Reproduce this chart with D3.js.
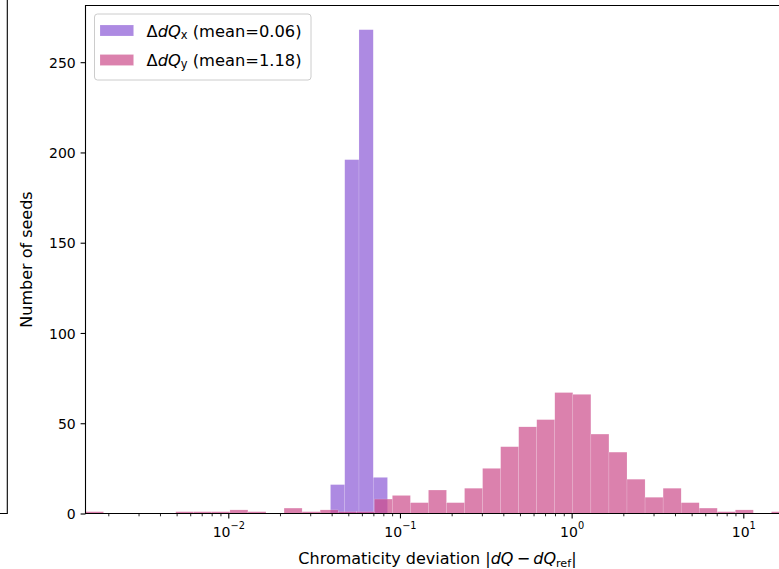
<!DOCTYPE html>
<html><head><meta charset="utf-8">
<script src="https://cdn.jsdelivr.net/npm/d3@7"></script>
<style>body{margin:0;background:#fff}svg{display:block;font-family:"DejaVu Sans",sans-serif}</style>
</head><body><svg id="c" width="779" height="569"></svg>
<script>
// ---- data ----
const pinkLogRange = [-2.8318, 1.2688];   // log10 of first / last bin edge (39 log-spaced bins)
const pinkCounts = [1,0,0,0,0,1,1,1,2,1, 0,3,1,2,1,1,8,10,6,13, 6,14,25,37,48,52,67,66,44,34, 19,9,14,6,3,1,2,0,1];
const purpleEdges = [0.03937, 0.04768, 0.05772, 0.06988, 0.08460];
const purpleCounts = [16,196,268,20];
const xTicks = [0.01, 0.1, 1, 10];
const xTickExps = ["\u22122", "\u22121", "0", "1"];
const yTicks = [0, 50, 100, 150, 200, 250];
const seriesNames = ["x", "y"];
const seriesMeans = ["0.06", "1.18"];
const purpleColor = "#8a58d6", pinkColor = "#cc4c8a", barAlpha = 0.7;

// ---- layout ----
const svg = d3.select("#c");
const L = 85.5, R = 789.45, T = 5.5, B = 513.5;
const nb = pinkCounts.length;
const pinkEdges = d3.range(nb + 1).map(i => Math.pow(10, pinkLogRange[0] + (pinkLogRange[1] - pinkLogRange[0]) * i / nb));
const x = d3.scaleLog().domain([pinkEdges[0], pinkEdges[nb]]).range([L, R]);
const y = d3.scaleLinear().domain([0, d3.max(purpleCounts.concat(pinkCounts)) * 1.05]).range([B, T]);

// partial neighbour frame at far left
svg.append("path").attr("d", `M7.3,0V${B}H0`).attr("fill", "none").attr("stroke", "#000").attr("stroke-width", 1.1);

svg.append("clipPath").attr("id", "clip").append("rect").attr("x", L).attr("y", T).attr("width", R - L).attr("height", B - T);
const plot = svg.append("g").attr("clip-path", "url(#clip)");

function drawHist(edges, counts, color) {
  const bins = counts.map((c, i) => ({x0: edges[i], x1: edges[i + 1], c})).filter(b => b.c > 0);
  plot.append("g").selectAll("rect").data(bins).join("rect")
    .attr("x", b => x(b.x0)).attr("width", b => x(b.x1) - x(b.x0))
    .attr("y", b => y(b.c)).attr("height", b => y(0) - y(b.c))
    .attr("fill", color).attr("fill-opacity", barAlpha)
    .attr("stroke", "#fff").attr("stroke-opacity", 0.45).attr("stroke-width", 0.35);
}
drawHist(purpleEdges, purpleCounts, purpleColor);
drawHist(pinkEdges, pinkCounts, pinkColor);

// ---- axes ----
const minor = [];
for (let e = -3; e <= 1; e++) for (let m = 2; m <= 9; m++) { const v = m * Math.pow(10, e); if (v > pinkEdges[0] && v < pinkEdges[nb]) minor.push(v); }
const gxm = svg.append("g").attr("transform", `translate(0,${B})`)
  .call(d3.axisBottom(x).tickValues(minor).tickSize(2.8).tickFormat(() => ""));
gxm.select(".domain").remove();
gxm.selectAll(".tick line").attr("stroke-width", 0.85);

const gx = svg.append("g").attr("transform", `translate(0,${B})`)
  .call(d3.axisBottom(x).tickValues(xTicks).tickSize(4.9).tickPadding(4.9).tickFormat(() => ""));
gx.select(".domain").remove();
gx.attr("font-family", null).attr("font-size", 14);
gx.selectAll(".tick line").attr("stroke-width", 1.1);
gx.selectAll(".tick text").each(function (d, i) {
  const t = d3.select(this).text(null).attr("y", 23.2).attr("dy", null).attr("fill", "#000");
  t.append("tspan").text("10");
  t.append("tspan").attr("dy", -7.7).attr("font-size", 9.8).text(xTickExps[i]);
});

const gy = svg.append("g").attr("transform", `translate(${L},0)`)
  .call(d3.axisLeft(y).tickValues(yTicks).tickSize(4.9).tickPadding(4.9));
gy.select(".domain").remove();
gy.attr("font-family", null).attr("font-size", 14);
gy.selectAll(".tick line").attr("stroke-width", 1.1);
gy.selectAll(".tick text").attr("fill", "#000").attr("dy", "0.36em");

// spines
svg.append("path").attr("d", `M${L},${B}V${T}H${R}V${B}Z`).attr("fill", "none").attr("stroke", "#000").attr("stroke-width", 1.1);

// axis labels
const xl = svg.append("text").attr("x", (L + R) / 2).attr("y", 564).attr("text-anchor", "middle").attr("font-size", 16);
xl.append("tspan").text("Chromaticity deviation |");
xl.append("tspan").attr("font-style", "italic").text("dQ");
xl.append("tspan").text("\u2009\u2212\u2009");
xl.append("tspan").attr("font-style", "italic").text("dQ");
xl.append("tspan").attr("font-size", 11.2).attr("dy", 3).text("ref");
xl.append("tspan").attr("dy", -3).text("|");

svg.append("text").attr("transform", `translate(31.5,${(T + B) / 2}) rotate(-90)`)
  .attr("text-anchor", "middle").attr("font-size", 16).text("Number of seeds");

// legend
const lg = svg.append("g");
lg.append("rect").attr("x", 94.5).attr("y", 14).attr("width", 216.5).attr("height", 66).attr("rx", 3)
  .attr("fill", "#fff").attr("fill-opacity", 0.8).attr("stroke", "#ccc").attr("stroke-width", 1);
const colors = [purpleColor, pinkColor];
seriesNames.forEach((s, i) => {
  const yy = 25 + i * 29.5;
  lg.append("rect").attr("x", 100).attr("y", yy).attr("width", 33.6).attr("height", 11)
    .attr("fill", colors[i]).attr("fill-opacity", barAlpha).attr("stroke", "#fff").attr("stroke-opacity", 0.45).attr("stroke-width", 0.35);
  const t = lg.append("text").attr("x", 146.5).attr("y", 36.7 + i * 29).attr("font-size", 16.3);
  t.append("tspan").text("\u0394");
  t.append("tspan").attr("font-style", "italic").text("dQ");
  t.append("tspan").attr("font-size", 11.4).attr("dy", 2.5).text(s);
  t.append("tspan").attr("dy", -2.5).text(" (mean=" + seriesMeans[i] + ")");
});
</script></body></html>
